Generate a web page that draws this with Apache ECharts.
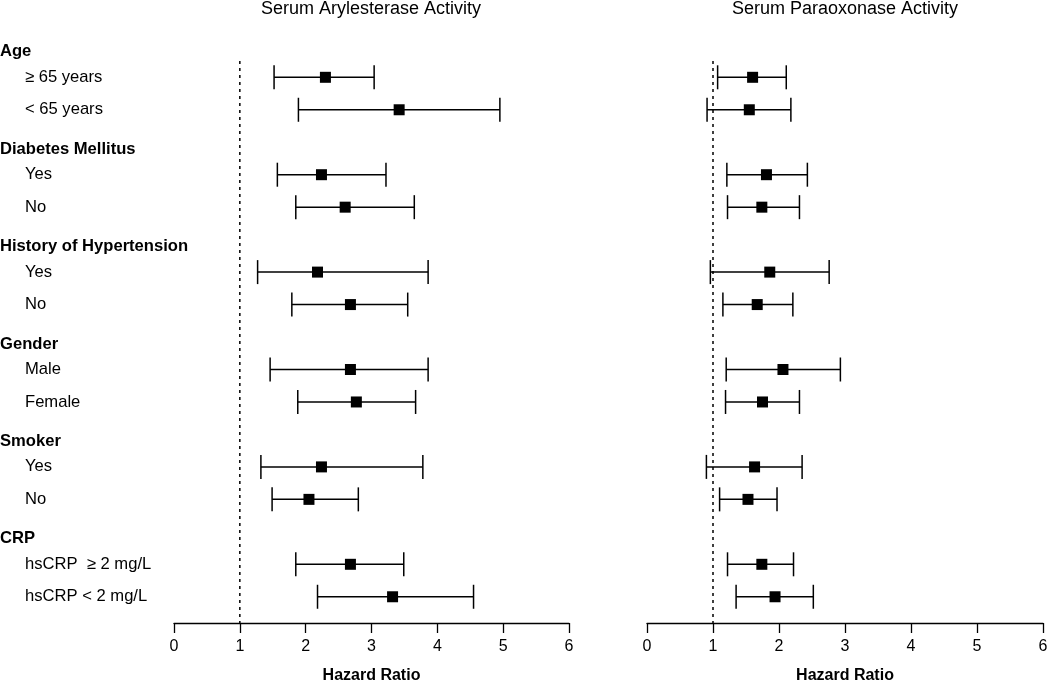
<!DOCTYPE html>
<html><head><meta charset="utf-8">
<script src="https://cdn.jsdelivr.net/npm/echarts@6/dist/echarts.min.js"></script>
<style>html,body{margin:0;padding:0;background:#fff}#c{width:1050px;height:683px}</style>
</head><body><div id="c"></div>
<script>
const panelTitles = ['Serum Arylesterase Activity', 'Serum Paraoxonase Activity'];
const groups = ['Age', 'Diabetes Mellitus', 'History of Hypertension', 'Gender', 'Smoker', 'CRP'];
const subgroups = [
  ['\u2265 65 years', '< 65 years'],
  ['Yes', 'No'],
  ['Yes', 'No'],
  ['Male', 'Female'],
  ['Yes', 'No'],
  ['hsCRP  \u2265 2 mg/L', 'hsCRP < 2 mg/L']
];
const aryHR   = [2.30, 3.42, 2.24, 2.60, 2.18, 2.68, 2.68, 2.77, 2.24, 2.05, 2.68, 3.32];
const aryLow  = [1.52, 1.89, 1.57, 1.85, 1.27, 1.79, 1.46, 1.88, 1.32, 1.49, 1.85, 2.18];
const aryHigh = [3.04, 4.95, 3.22, 3.65, 3.86, 3.55, 3.86, 3.67, 3.78, 2.80, 3.49, 4.55];
const paraHR   = [1.60, 1.55, 1.81, 1.74, 1.86, 1.67, 2.06, 1.75, 1.63, 1.53, 1.74, 1.94];
const paraLow  = [1.07, 0.91, 1.21, 1.22, 0.96, 1.15, 1.20, 1.19, 0.90, 1.10, 1.22, 1.35];
const paraHigh = [2.11, 2.18, 2.43, 2.31, 2.76, 2.21, 2.93, 2.31, 2.35, 1.97, 2.22, 2.52];
const xMin = 0, xMax = 6, xStep = 1;
const refValue = 1;
const axisName = 'Hazard Ratio';

const FONT = '"Liberation Sans", Arial, sans-serif';
const rows = [];
const itemRow = [];
groups.forEach((g, gi) => {
  rows.push('{h|' + g + '}');
  subgroups[gi].forEach(s => { itemRow.push(rows.length); rows.push('{i|' + s + '}'); });
});

function ciData(lo, hi) { return lo.map((l, k) => [itemRow[k], l, hi[k]]); }
function ptData(hr) { return hr.map((v, k) => [v, itemRow[k]]); }

function renderCI(params, api) {
  const r = api.value(0);
  const a = api.coord([api.value(1), r]);
  const b = api.coord([api.value(2), r]);
  const h = 12;
  const st = { stroke: '#000', lineWidth: 1.5 };
  return { type: 'group', children: [
    { type: 'line', shape: { x1: a[0], y1: a[1], x2: b[0], y2: b[1] }, style: st },
    { type: 'line', shape: { x1: a[0], y1: a[1] - h, x2: a[0], y2: a[1] + h }, style: st },
    { type: 'line', shape: { x1: b[0], y1: b[1] - h, x2: b[0], y2: b[1] + h }, style: st }
  ]};
}
const AXIS_OFFSET = 10;
function renderRef(params, api) {
  const cs = params.coordSys;
  const p = api.coord([api.value(0), 0]);
  const band = api.size([0, 1])[1];
  return { type: 'line',
    shape: { x1: p[0], y1: p[1] + band / 2, x2: p[0], y2: cs.y + cs.height + AXIS_OFFSET },
    style: { stroke: '#000', lineWidth: 1.5, lineDash: [3, 4] } };
}

const grids = [
  { left: 174, right: 481, top: 28.6, bottom: 70, containLabel: false, outerBoundsMode: 'none' },
  { left: 647, right: 7, top: 28.6, bottom: 70, containLabel: false, outerBoundsMode: 'none' }
];
const xAxes = grids.map((g, i) => ({
  gridIndex: i, type: 'value', min: xMin, max: xMax, interval: xStep, offset: AXIS_OFFSET,
  axisLine: { show: true, lineStyle: { color: '#000', width: 1.3 } },
  axisTick: { show: true, length: 10, lineStyle: { color: '#000', width: 1.3 } },
  axisLabel: { color: '#000', fontSize: 16, fontFamily: FONT, margin: 16 },
  splitLine: { show: false },
  name: axisName, nameLocation: 'middle', nameGap: 45,
  nameTextStyle: { color: '#000', fontSize: 16, fontWeight: 'bold', fontFamily: FONT }
}));
const yAxes = grids.map((g, i) => ({
  gridIndex: i, type: 'category', data: rows, inverse: true,
  axisLine: { show: false }, axisTick: { show: false }, splitLine: { show: false },
  axisLabel: {
    show: i === 0, interval: 0, align: 'left', margin: 174, color: '#000', fontFamily: FONT,
    rich: {
      h: { fontSize: 16.6, fontWeight: 'bold', color: '#000', fontFamily: FONT, padding: [14, 0, 0, 0] },
      i: { fontSize: 16.6, color: '#000', fontFamily: FONT, padding: [0, 0, 0, 25] }
    }
  }
}));

const panels = [[aryHR, aryLow, aryHigh], [paraHR, paraLow, paraHigh]];
const series = [];
panels.forEach((p, i) => {
  series.push({ type: 'custom', xAxisIndex: i, yAxisIndex: i, data: [[refValue]], encode: { x: 0 },
    renderItem: renderRef, clip: false, silent: true, z: 1 });
  series.push({ type: 'custom', xAxisIndex: i, yAxisIndex: i, data: ciData(p[1], p[2]),
    encode: { x: [1, 2], y: 0 }, renderItem: renderCI, clip: false, z: 2 });
  series.push({ type: 'scatter', xAxisIndex: i, yAxisIndex: i, data: ptData(p[0]),
    symbol: 'rect', symbolSize: 11, itemStyle: { color: '#000', opacity: 1 }, z: 3 });
});

const chart = echarts.init(document.getElementById('c'), null, { renderer: 'canvas' });
chart.setOption({
  animation: false,
  backgroundColor: '#fff',
  title: panelTitles.map((t, i) => ({
    text: t, left: i === 0 ? 371 : 845, top: 0, textAlign: 'center', padding: 0,
    textStyle: { fontSize: 18, fontWeight: 'normal', color: '#000', fontFamily: FONT }
  })),
  grid: grids,
  xAxis: xAxes,
  yAxis: yAxes,
  series: series
});
</script></body></html>
